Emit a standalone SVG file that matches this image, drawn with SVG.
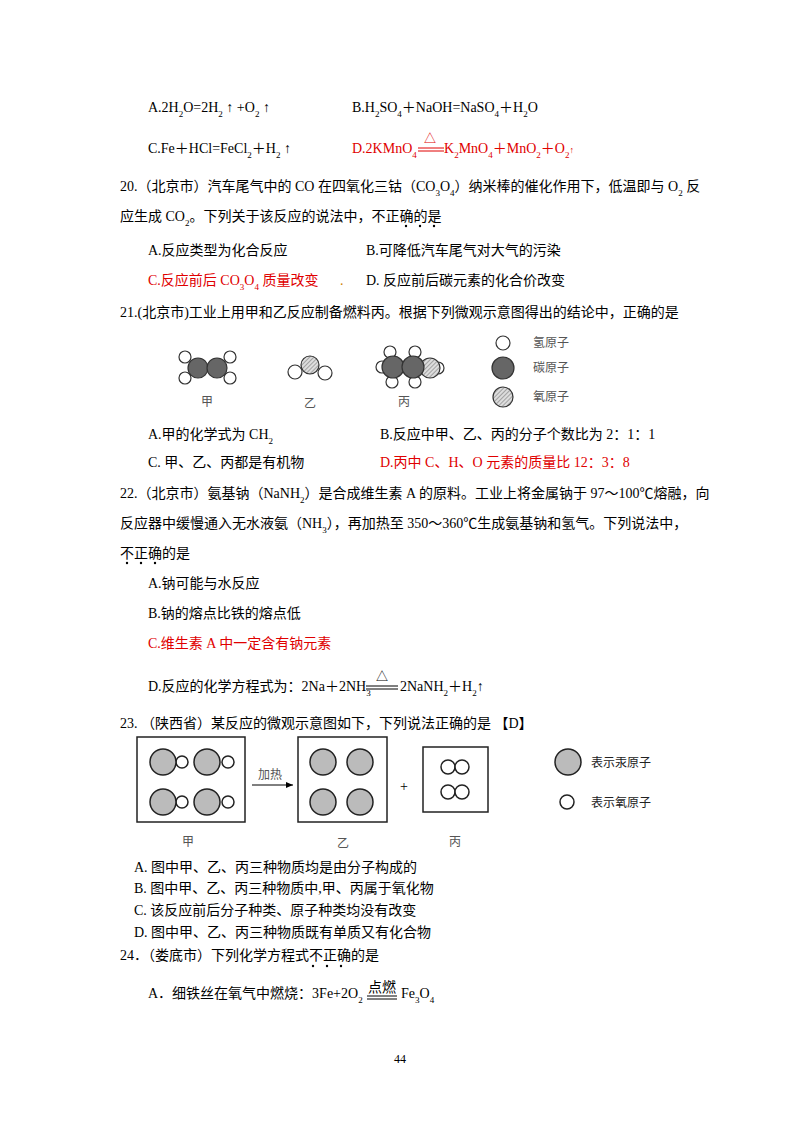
<svg xmlns="http://www.w3.org/2000/svg" width="800" height="1132" viewBox="0 0 800 1132">
<style>
text{font-family:"Liberation Serif","Noto Sans CJK SC",serif;font-size:14px;fill:#000}
.r{fill:#e00000}
.s{font-size:9px;baseline-shift:sub}
.fl{font-size:12px;fill:#555}
.ln{stroke:#000;fill:none}
.h{fill:#fff;stroke:#333;stroke-width:1.2}
.c{fill:#666;stroke:#333;stroke-width:1.2}
.o{fill:url(#hatch);stroke:#333;stroke-width:1.2}
.hg{fill:#bbb;stroke:#222;stroke-width:1.5}
.ow{fill:#fff;stroke:#222;stroke-width:1.5}
.box{fill:#fff;stroke:#222;stroke-width:1.5}
.dot{fill:#000}
</style>
<defs>
<pattern id="hatch" width="3" height="3" patternUnits="userSpaceOnUse" patternTransform="rotate(45)">
<rect width="3" height="3" fill="#ddd"/><line x1="0" y1="0" x2="0" y2="3" stroke="#666" stroke-width="1"/>
</pattern>
<marker id="ar" markerWidth="8" markerHeight="8" refX="7" refY="4" orient="auto"><path d="M0,1 L7,4 L0,7 Z" fill="#000"/></marker>
</defs>
<rect width="800" height="1132" fill="#fff"/>

<g id="q19">
<text x="148" y="112">A.2H<tspan class="s">2</tspan>O=2H<tspan class="s">2</tspan> ↑ +O<tspan class="s">2</tspan> ↑</text>
<text x="352" y="112">B.H<tspan class="s">2</tspan>SO<tspan class="s">4</tspan>＋NaOH=NaSO<tspan class="s">4</tspan>＋H<tspan class="s">2</tspan>O</text>
<text x="148" y="153">C.Fe＋HCl=FeCl<tspan class="s">2</tspan>＋H<tspan class="s">2</tspan> ↑</text>
<text x="352" y="153" class="r">D.2KMnO<tspan class="s">4</tspan></text>
<line x1="418" y1="148" x2="444" y2="148" stroke="#e00000"/><line x1="418" y1="151" x2="444" y2="151" stroke="#e00000"/>
<text x="424" y="143" class="r" style="font-size:12px">△</text>
<text x="444" y="153" class="r">K<tspan class="s">2</tspan>MnO<tspan class="s">4</tspan>＋MnO<tspan class="s">2</tspan>＋O<tspan class="s">2</tspan><tspan style="font-size:9px">↑</tspan></text>
</g>

<g id="q20">
<text x="120" y="191">20.（北京市）汽车尾气中的 CO 在四氧化三钴（CO<tspan class="s">3</tspan>O<tspan class="s">4</tspan>）纳米棒的催化作用下，低温即与 O<tspan class="s">2</tspan> 反</text>
<text x="120" y="221">应生成 CO<tspan class="s">2</tspan>。下列关于该反应的说法中，不正确的是</text>
<circle class="dot" cx="406" cy="226" r="1.2"/><circle class="dot" cx="420" cy="226" r="1.2"/><circle class="dot" cx="434" cy="226" r="1.2"/>
<text x="148" y="255">A.反应类型为化合反应</text>
<text x="366" y="255">B.可降低汽车尾气对大气的污染</text>
<text x="148" y="285" class="r">C.反应前后 CO<tspan class="s">3</tspan>O<tspan class="s">4</tspan> 质量改变</text>
<text x="340" y="285" style="fill:#d08000">.</text>
<text x="366" y="285">D. 反应前后碳元素的化合价改变</text>
</g>

<g id="q21">
<text x="120" y="317">21.(北京市)工业上用甲和乙反应制备燃料丙。根据下列微观示意图得出的结论中，正确的是</text>
<circle class="h" cx="185" cy="357" r="6"/><circle class="h" cx="230" cy="357" r="6"/>
<circle class="h" cx="185" cy="378" r="6"/><circle class="h" cx="230" cy="378" r="6"/>
<circle class="c" cx="198" cy="368" r="10"/><circle class="c" cx="217" cy="368" r="10"/>
<text x="201" y="406" class="fl">甲</text>
<circle class="o" cx="310" cy="365" r="9"/>
<circle class="h" cx="295" cy="372" r="7"/><circle class="h" cx="325" cy="373" r="7"/>
<text x="304" y="408" class="fl">乙</text>
<circle class="h" cx="438" cy="368" r="6"/>
<circle class="h" cx="390" cy="352" r="6"/><circle class="h" cx="415" cy="352" r="6"/>
<circle class="h" cx="382" cy="367" r="6"/>
<circle class="h" cx="392" cy="382" r="6"/><circle class="h" cx="415" cy="382" r="6"/>
<circle class="o" cx="430" cy="368" r="10"/>
<circle class="c" cx="393" cy="367" r="11"/><circle class="c" cx="413" cy="367" r="11"/>
<text x="398" y="406" class="fl">丙</text>
<circle class="h" cx="503" cy="343" r="7"/><text x="533" y="347" class="fl">氢原子</text>
<circle class="c" cx="503" cy="368" r="11"/><text x="533" y="372" class="fl">碳原子</text>
<circle class="o" cx="503" cy="397" r="10"/><text x="533" y="401" class="fl">氧原子</text>
<text x="148" y="439">A.甲的化学式为 CH<tspan class="s">2</tspan></text>
<text x="380" y="439">B.反应中甲、乙、丙的分子个数比为 2：1：1</text>
<text x="148" y="467">C. 甲、乙、丙都是有机物</text>
<text x="380" y="467" class="r">D.丙中 C、H、O 元素的质量比 12：3：8</text>
</g>

<g id="q22">
<text x="120" y="498">22.（北京市）氨基钠（NaNH<tspan class="s">2</tspan>）是合成维生素 A 的原料。工业上将金属钠于 97～100℃熔融，向</text>
<text x="120" y="528">反应器中缓慢通入无水液氨（NH<tspan class="s">3</tspan>），再加热至 350～360℃生成氨基钠和氢气。下列说法中，</text>
<text x="120" y="558">不正确的是</text>
<circle class="dot" cx="127" cy="563" r="1.2"/><circle class="dot" cx="141" cy="563" r="1.2"/><circle class="dot" cx="155" cy="563" r="1.2"/>
<text x="148" y="588">A.钠可能与水反应</text>
<text x="148" y="618">B.钠的熔点比铁的熔点低</text>
<text x="148" y="648" class="r">C.维生素 A 中一定含有钠元素</text>
<text x="148" y="691">D.反应的化学方程式为：2Na＋2NH<tspan class="s">3</tspan></text>
<line x1="366" y1="686" x2="398" y2="686" stroke="#000"/><line x1="366" y1="689" x2="398" y2="689" stroke="#000"/>
<text x="376" y="681" style="font-size:12px">△</text>
<text x="400" y="691">2NaNH<tspan class="s">2</tspan>＋H<tspan class="s">2</tspan>↑</text>
</g>

<g id="q23">
<text x="120" y="728">23. （陕西省）某反应的微观示意图如下，下列说法正确的是 【D】</text>
<rect class="box" x="137" y="737" width="108" height="85"/>
<circle class="ow" cx="182" cy="762" r="6"/><circle class="hg" cx="163" cy="762" r="13"/>
<circle class="ow" cx="228" cy="762" r="6"/><circle class="hg" cx="207" cy="762" r="13"/>
<circle class="ow" cx="182" cy="802" r="6"/><circle class="hg" cx="163" cy="802" r="13"/>
<circle class="ow" cx="228" cy="802" r="6"/><circle class="hg" cx="207" cy="802" r="13"/>
<text x="258" y="779" class="fl">加热</text>
<g id="connectors"><line x1="252" y1="785" x2="293" y2="785" stroke="#000" marker-end="url(#ar)"/></g>
<rect class="box" x="298" y="737" width="89" height="85"/>
<circle class="hg" cx="323" cy="762" r="13"/><circle class="hg" cx="360" cy="762" r="13"/>
<circle class="hg" cx="323" cy="802" r="13"/><circle class="hg" cx="360" cy="802" r="13"/>
<text x="400" y="791">+</text>
<rect class="box" x="423" y="747" width="65" height="65"/>
<circle class="ow" cx="448" cy="767" r="7"/><circle class="ow" cx="462" cy="767" r="7"/>
<circle class="ow" cx="448" cy="792" r="7"/><circle class="ow" cx="462" cy="792" r="7"/>
<circle class="hg" cx="568" cy="762" r="13"/><text x="591" y="767" class="fl" style="fill:#222">表示汞原子</text>
<circle class="ow" cx="567" cy="802" r="7"/><text x="591" y="807" class="fl" style="fill:#222">表示氧原子</text>
<text x="182" y="846" class="fl">甲</text>
<text x="337" y="848" class="fl">乙</text>
<text x="449" y="846" class="fl">丙</text>
<text x="134" y="872">A.  图中甲、乙、丙三种物质均是由分子构成的</text>
<text x="134" y="893">B.  图中甲、乙、丙三种物质中,甲、丙属于氧化物</text>
<text x="134" y="915">C.  该反应前后分子种类、原子种类均没有改变</text>
<text x="134" y="937">D.  图中甲、乙、丙三种物质既有单质又有化合物</text>
</g>

<g id="q24">
<text x="120" y="960">24．（娄底市）下列化学方程式不正确的是</text>
<circle class="dot" cx="313" cy="966" r="1.2"/><circle class="dot" cx="327" cy="966" r="1.2"/><circle class="dot" cx="341" cy="966" r="1.2"/>
<text x="148" y="998">A．细铁丝在氧气中燃烧：3Fe+2O<tspan class="s">2</tspan></text>
<text x="368" y="992">点燃</text>
<line x1="367" y1="996" x2="397" y2="996" stroke="#000"/><line x1="367" y1="999" x2="397" y2="999" stroke="#000"/>
<text x="401" y="998">Fe<tspan class="s">3</tspan>O<tspan class="s">4</tspan></text>
</g>
<text x="400" y="1063" style="font-size:12px" text-anchor="middle">44</text>
</svg>
